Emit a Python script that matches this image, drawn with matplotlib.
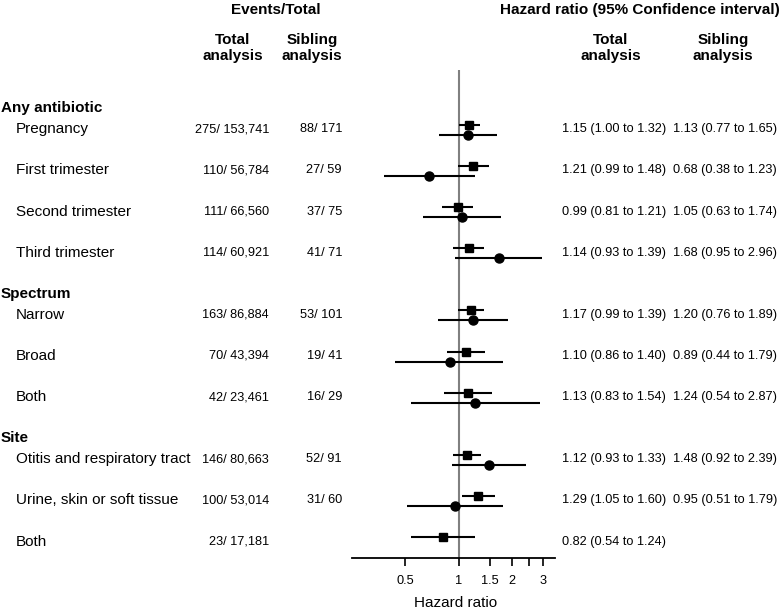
import matplotlib.pyplot as plt
import numpy as np

plt.rcParams['font.family'] = ['Liberation Sans', 'DejaVu Sans']

W, H = 782, 612

groups = ['Any antibiotic', 'Spectrum', 'Site']
group_of = [0, 0, 0, 0, 1, 1, 1, 2, 2, 2]
labels = ['Pregnancy', 'First trimester', 'Second trimester', 'Third trimester',
          'Narrow', 'Broad', 'Both',
          'Otitis and respiratory tract', 'Urine, skin or soft tissue', 'Both']
events_total = ['275/ 153,741', '110/ 56,784', '111/ 66,560', '114/ 60,921',
                '163/ 86,884', '70/ 43,394', '42/ 23,461',
                '146/ 80,663', '100/ 53,014', '23/ 17,181']
events_sib = ['88/ 171', '27/ 59', '37/ 75', '41/ 71',
              '53/ 101', '19/ 41', '16/ 29',
              '52/ 91', '31/ 60', '']
hr_total = [1.15, 1.21, 0.99, 1.14, 1.17, 1.10, 1.13, 1.12, 1.29, 0.82]
lo_total = [1.00, 0.99, 0.81, 0.93, 0.99, 0.86, 0.83, 0.93, 1.05, 0.54]
hi_total = [1.32, 1.48, 1.21, 1.39, 1.39, 1.40, 1.54, 1.33, 1.60, 1.24]
hr_sib = [1.13, 0.68, 1.05, 1.68, 1.20, 0.89, 1.24, 1.48, 0.95, np.nan]
lo_sib = [0.77, 0.38, 0.63, 0.95, 0.76, 0.44, 0.54, 0.92, 0.51, np.nan]
hi_sib = [1.65, 1.23, 1.74, 2.96, 1.89, 1.79, 2.87, 2.39, 1.79, np.nan]

# row layout (pixels from top)
header_y = []
row_y = []
y = 108
for g in range(len(groups)):
    header_y.append(y)
    y += 21
    idx = [i for i in range(len(labels)) if group_of[i] == g]
    for k, i in enumerate(idx):
        row_y.append(y)
        y += 41.3
    y -= 0.5
row_y = np.array(row_y)

fig = plt.figure(figsize=(W / 100, H / 100), dpi=100)
fs = 11
fs_num = 9.2  # numbers in the reference are set in a narrow face


def put(x, y, s, **kw):
    kw.setdefault('fontsize', fs)
    kw.setdefault('va', 'center')
    fig.text(x / W, 1 - y / H, s, **kw)


# column headers
put(276, 10, 'Events/Total', ha='center', weight='bold')
put(233, 48, 'Total\nanalysis', ha='center', weight='bold', linespacing=1.1)
put(312, 48, 'Sibling\nanalysis', ha='center', weight='bold', linespacing=1.1)
put(780, 10, 'Hazard ratio (95% Confidence interval)', ha='right', weight='bold')
put(611, 48, 'Total\nanalysis', ha='center', weight='bold', linespacing=1.1)
put(723, 48, 'Sibling\nanalysis', ha='center', weight='bold', linespacing=1.1)

for g, yy in zip(groups, header_y):
    put(1, yy, g, ha='left', weight='bold')

for i, yy in enumerate(row_y):
    put(16, yy, labels[i], ha='left')
    put(269, yy, events_total[i], ha='right', fontsize=fs_num)
    put(342, yy, events_sib[i], ha='right', fontsize=fs_num)
    put(562, yy, '%.2f (%.2f to %.2f)' % (hr_total[i], lo_total[i], hi_total[i]),
        ha='left', fontsize=fs_num)
    if not np.isnan(hr_sib[i]):
        put(673, yy, '%.2f (%.2f to %.2f)' % (hr_sib[i], lo_sib[i], hi_sib[i]),
            ha='left', fontsize=fs_num)

# forest plot
ax = fig.add_axes([352 / W, 1 - 558 / H, 203 / W, (558 - 70) / H])
ax.set_xscale('log')
ax.set_xlim(0.25, 3.5)
ax.set_ylim(558, 70)
ax.axvline(1, color='#808080', lw=1.5, zorder=1)

ys_sq = row_y - 4.5
ys_ci = row_y + 5.5
ax.hlines(ys_sq, lo_total, hi_total, color='black', lw=1.5, zorder=2)
ax.plot(hr_total, ys_sq, 's', ms=5.5, color='black', zorder=3)
ax.hlines(ys_ci, lo_sib, hi_sib, color='black', lw=1.5, zorder=2)
ax.plot(hr_sib, ys_ci, 'o', ms=6.5, color='black', zorder=3)

for s in ['left', 'right', 'top']:
    ax.spines[s].set_visible(False)
ax.spines['bottom'].set_linewidth(1.3)
ax.set_yticks([])
ax.xaxis.set_minor_locator(plt.NullLocator())
ax.set_xticks([0.5, 1, 1.5, 2, 2.5, 3])
ax.set_xticklabels(['0.5', '1', '1.5', '2', '', '3'])
ax.tick_params(axis='x', length=6, width=1.2, pad=6, labelsize=fs_num)
ax.patch.set_visible(False)

put(456, 603, 'Hazard ratio', ha='center')

fig.savefig('out.png', dpi=100)
